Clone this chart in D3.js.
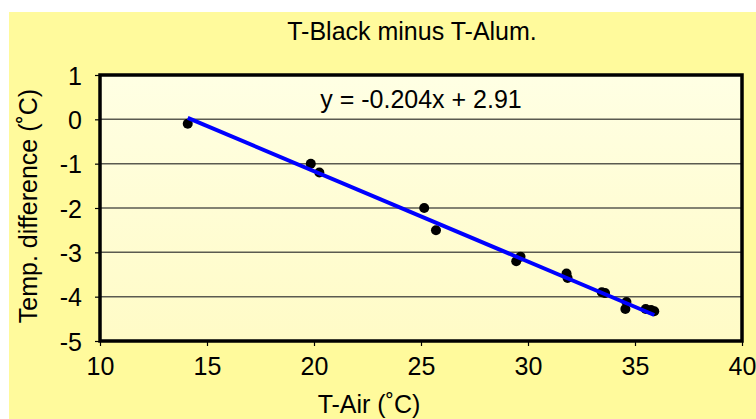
<!DOCTYPE html>
<html>
<head>
<meta charset="utf-8">
<script src="https://cdn.jsdelivr.net/npm/d3@7"></script>
<style>
  body { margin: 0; background: #fff; }
  svg { display: block; font-family: "Liberation Sans", Arial, sans-serif; }
</style>
</head>
<body>
<svg id="chart" width="756" height="419"></svg>
<script>
// data
var tAir = [14.1, 19.85, 20.25, 25.15, 25.7, 29.45, 29.65, 31.8, 31.85, 33.45, 33.6, 34.6, 34.55, 35.5, 35.75, 35.9];
var tDiff = [-0.1, -1.0, -1.2, -2.0, -2.5, -3.2, -3.1, -3.48, -3.58, -3.9, -3.92, -4.12, -4.28, -4.28, -4.3, -4.33];
var slope = -0.204, intercept = 2.91;
var xTicks = [10, 15, 20, 25, 30, 35, 40];
var yTicks = [1, 0, -1, -2, -3, -4, -5];

var svg = d3.select("#chart");
var margin = {left: 100, top: 75, right: 14, bottom: 78};
var w = 756 - margin.left - margin.right,
    h = 419 - margin.top - margin.bottom;
var fs = 25;

// outer yellow area
svg.append("rect").attr("x", 9).attr("y", 12).attr("width", 747).attr("height", 407)
    .attr("fill", "#fffa9c");

var grad = svg.append("defs").append("linearGradient")
    .attr("id", "bg").attr("x1", 0).attr("y1", 0).attr("x2", 0).attr("y2", 1);
grad.append("stop").attr("offset", "0%").attr("stop-color", "#ffffe4");
grad.append("stop").attr("offset", "100%").attr("stop-color", "#fffbc6");

var g = svg.append("g").attr("transform", "translate(" + margin.left + "," + margin.top + ")");

var x = d3.scaleLinear().domain([10, 40]).range([0, w]);
var y = d3.scaleLinear().domain([-5, 1]).range([h, 0]);

g.append("rect").attr("width", w).attr("height", h).attr("fill", "url(#bg)");

// gridlines
g.append("g").selectAll("line").data(yTicks.filter(function(d) { return d > -5 && d < 1; }))
    .enter().append("line")
    .attr("x1", 0).attr("x2", w)
    .attr("y1", function(d) { return y(d); }).attr("y2", function(d) { return y(d); })
    .attr("stroke", "#5a5a50").attr("stroke-width", 1.5);

// axes
var fmt = function(d) { return String(d); };
var xAxis = g.append("g").attr("transform", "translate(0," + h + ")")
    .call(d3.axisBottom(x).tickValues(xTicks).tickFormat(fmt).tickSize(5).tickPadding(11));
var yAxis = g.append("g")
    .call(d3.axisLeft(y).tickValues(yTicks).tickFormat(fmt).tickSize(5).tickPadding(13));
[xAxis, yAxis].forEach(function(a) {
    a.attr("font-size", fs).attr("font-family", "Liberation Sans, Arial, sans-serif");
    a.select(".domain").remove();
    a.selectAll("line").attr("stroke", "#000").attr("stroke-width", 1.2);
    a.selectAll("text").attr("fill", "#000");
});
yAxis.selectAll("text").attr("dy", "0.36em");

// frame
g.append("rect").attr("width", w).attr("height", h)
    .attr("fill", "none").attr("stroke", "#000").attr("stroke-width", 3.5);

// points
g.append("g").selectAll("circle").data(tAir).enter().append("circle")
    .attr("cx", function(d) { return x(d); })
    .attr("cy", function(d, i) { return y(tDiff[i]); })
    .attr("r", 5).attr("fill", "#000");

// trend line
var xr = d3.extent(tAir);
g.append("line")
    .attr("x1", x(xr[0])).attr("y1", y(slope * xr[0] + intercept))
    .attr("x2", x(xr[1])).attr("y2", y(slope * xr[1] + intercept))
    .attr("stroke", "#0000ff").attr("stroke-width", 4);

g.append("text").attr("x", 321).attr("y", 33)
    .attr("text-anchor", "middle").attr("font-size", fs)
    .text("y = " + slope + "x + " + intercept);

// titles
svg.append("text").attr("x", 412).attr("y", 40).attr("text-anchor", "middle")
    .attr("font-size", fs).text("T-Black minus T-Alum.");
svg.append("text").attr("x", 369).attr("y", 413).attr("text-anchor", "middle")
    .attr("font-size", fs).text("T-Air (˚C)");
svg.append("text").attr("transform", "translate(37,206) rotate(-90)")
    .attr("text-anchor", "middle").attr("font-size", fs).text("Temp. difference (˚C)");
</script>
</body>
</html>
